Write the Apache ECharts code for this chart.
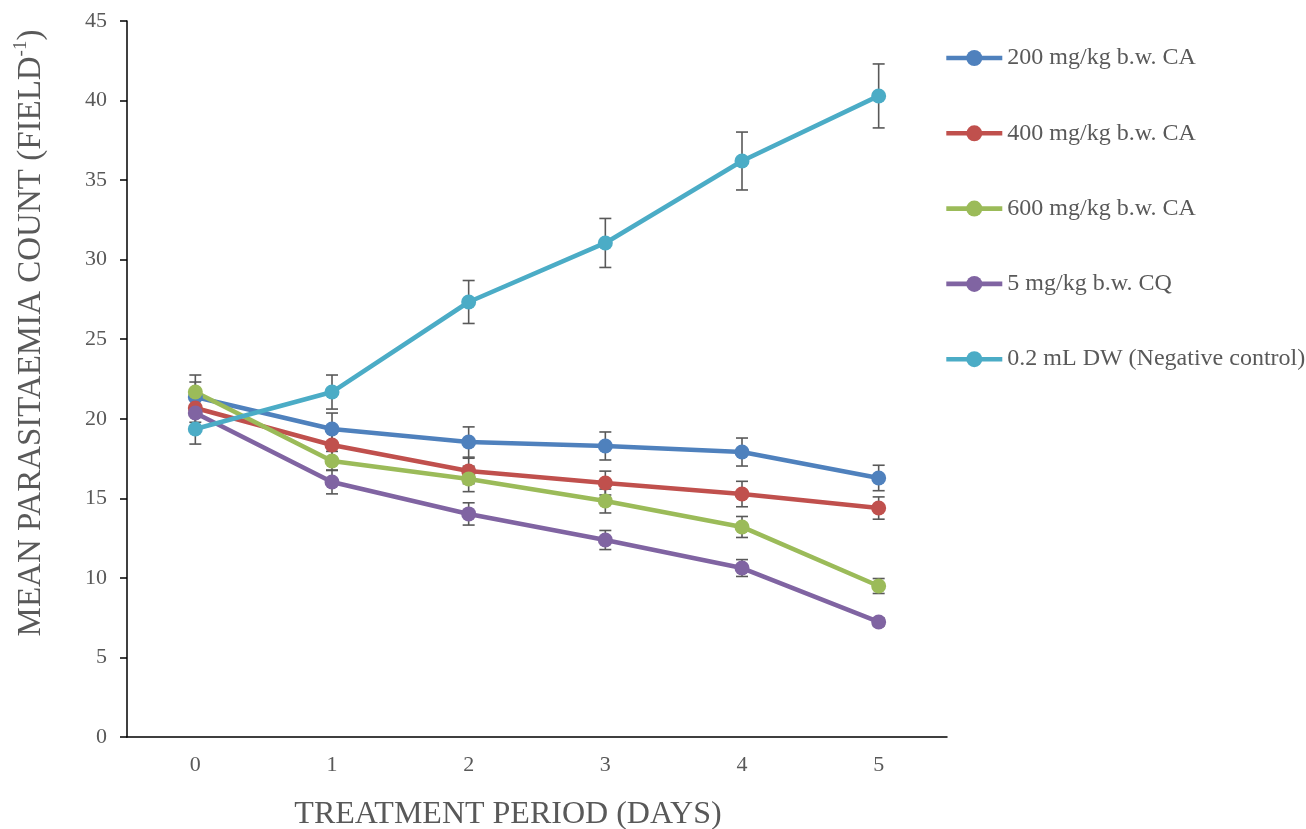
<!DOCTYPE html>
<html>
<head>
<meta charset="utf-8">
<script src="https://cdn.jsdelivr.net/npm/echarts@6/dist/echarts.min.js"></script>
<style>html,body{margin:0;padding:0;background:#fff}#main{width:1306px;height:829px}</style>
</head>
<body>
<div id="main"></div>
<script>
const days = ['0', '1', '2', '3', '4', '5'];
const seriesNames = ['200 mg/kg b.w. CA', '400 mg/kg b.w. CA', '600 mg/kg b.w. CA', '5 mg/kg b.w. CQ', '0.2 mL DW (Negative control)'];
const ca200 = [21.37, 19.36, 18.54, 18.29, 17.91, 16.28];
const ca400 = [20.68, 18.35, 16.72, 15.96, 15.27, 14.39];
const ca600 = [21.68, 17.35, 16.22, 14.83, 13.20, 9.49];
const cq5 = [20.36, 16.03, 14.02, 12.38, 10.62, 7.23];
const dw = [19.36, 21.68, 27.34, 31.05, 36.20, 40.29];
const err200 = [0.94, 1.0, 0.95, 0.88, 0.88, 0.80];
const err400 = [0.9, 0.8, 0.8, 0.75, 0.8, 0.7];
const err600 = [1.07, 0.6, 0.8, 0.75, 0.66, 0.47];
const errCq = [0.8, 0.75, 0.7, 0.6, 0.53, 0.25];
const errDw = [0.95, 1.07, 1.35, 1.54, 1.82, 2.01];
const yTicks = [0, 5, 10, 15, 20, 25, 30, 35, 40, 45];

const colors = ['#4F81BD', '#C0504D', '#9BBB59', '#8064A2', '#4BACC6'];
const values = [ca200, ca400, ca600, cq5, dw];
const errs = [err200, err400, err600, errCq, errDw];
const serif = 'Liberation Serif, Times New Roman, serif';

const chart = echarts.init(document.getElementById('main'));
const series = [];
values.forEach((vals, i) => {
  series.push({
    name: seriesNames[i] + ' err',
    type: 'custom',
    z: 1,
    silent: true,
    data: vals.map((v, k) => [k, v - errs[i][k], v + errs[i][k]]),
    renderItem: function (params, api) {
      const lo = api.coord([api.value(0), api.value(1)]);
      const hi = api.coord([api.value(0), api.value(2)]);
      const w = 6;
      const st = { stroke: '#595959', lineWidth: 1.6 };
      return {
        type: 'group',
        children: [
          { type: 'line', shape: { x1: lo[0], y1: lo[1], x2: hi[0], y2: hi[1] }, style: st },
          { type: 'line', shape: { x1: lo[0] - w, y1: lo[1], x2: lo[0] + w, y2: lo[1] }, style: st },
          { type: 'line', shape: { x1: hi[0] - w, y1: hi[1], x2: hi[0] + w, y2: hi[1] }, style: st }
        ]
      };
    }
  });
});
values.forEach((vals, i) => {
  series.push({
    name: seriesNames[i],
    type: 'line',
    z: 3,
    data: vals,
    symbol: 'circle',
    symbolSize: 15,
    color: colors[i],
    lineStyle: { width: 4.6, color: colors[i] },
    itemStyle: { color: colors[i] },
    emphasis: { disabled: true }
  });
});

chart.setOption({
  animation: false,
  backgroundColor: '#fff',
  grid: { left: 127, right: 359, top: 21, bottom: 92, containLabel: false },
  legend: {
    data: seriesNames,
    orient: 'vertical',
    left: 944,
    top: 46,
    padding: 0,
    itemWidth: 56,
    itemHeight: 20,
    itemGap: 51.3,
    lineStyle: { width: 4.6 },
    textStyle: { fontFamily: serif, fontSize: 24, lineHeight: 24, color: '#595959' }
  },
  xAxis: {
    type: 'category',
    data: days,
    boundaryGap: true,
    axisLine: { lineStyle: { color: '#000', width: 1.5 } },
    axisTick: { show: false },
    axisLabel: { fontFamily: serif, fontSize: 22, color: '#595959', margin: 17 },
    splitLine: { show: false }
  },
  yAxis: {
    type: 'value',
    min: 0,
    max: 45,
    interval: 5,
    axisLine: { show: true, lineStyle: { color: '#000', width: 1.5 } },
    axisTick: { show: true, length: 7, lineStyle: { color: '#000', width: 1.5 } },
    axisLabel: { fontFamily: serif, fontSize: 22, color: '#595959', margin: 20,
      formatter: v => yTicks.includes(v) ? String(v) : '' },
    splitLine: { show: false }
  },
  graphic: [
    {
      type: 'text',
      x: 508, y: 815,
      style: { text: 'TREATMENT PERIOD (DAYS)', font: '32px ' + serif, fill: '#595959', align: 'center', verticalAlign: 'middle' }
    },
    {
      type: 'text',
      x: 30, y: 333,
      rotation: Math.PI / 2,
      style: {
        text: '{a|MEAN PARASITAEMIA COUNT (FIELD}{b|-1}{a|)}',
        align: 'center', verticalAlign: 'middle',
        rich: {
          a: { fontFamily: serif, fontSize: 33, fill: '#595959', lineHeight: 36, verticalAlign: 'bottom' },
          b: { fontFamily: serif, fontSize: 19, fill: '#595959', lineHeight: 36, verticalAlign: 'top', padding: [0, 0, 14, 0] }
        }
      }
    }
  ],
  series: series
});
</script>
</body>
</html>
